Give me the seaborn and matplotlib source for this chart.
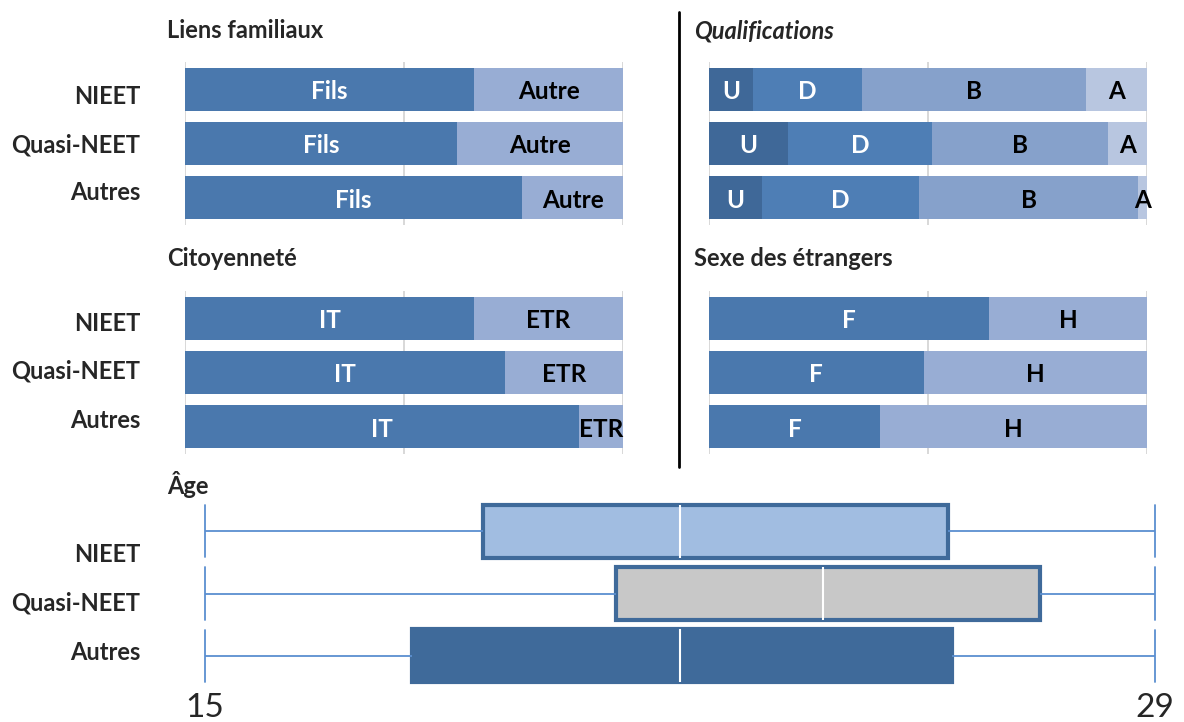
import matplotlib
matplotlib.use("Agg")
import matplotlib.pyplot as plt
from matplotlib.lines import Line2D
import numpy as np
import pandas as pd
import seaborn as sns

# groups shown on every panel
groups = ["NIEET", "Quasi-NEET", "Autres"]

# Liens familiaux (%)
fils = [66, 62, 77]
autre = [34, 38, 23]

# Citoyenneté (%)
ital = [66, 73, 90]
etr = [34, 27, 10]

# Qualifications (%)
qual_u = [10, 18, 12]
qual_d = [25, 33, 36]
qual_b = [51, 40, 50]
qual_a = [14, 9, 2]

# Sexe des étrangers (%)
femmes = [64, 49, 39]
hommes = [36, 51, 61]

# Âge : min, Q1, médiane, Q3, max
age_nieet = [15, 19.1, 22, 25.95, 29]
age_quasi = [15, 21.05, 24.1, 27.3, 29]
age_autres = [15, 18.05, 22, 26, 29]
age_ticks = [15, 29]

DARK = "#4A78AD"
LIGHT = "#98ADD4"
Q_COLORS = ["#3F6898", "#4E7EB5", "#86A1CB", "#B8C6E0"]
Q_TEXT = ["white", "white", "black", "black"]
BOX_EDGE = "#3F6A9A"
WHISK = "#5B8FD0"

sns.set_theme(style="white")
plt.rcParams["font.family"] = ["Lato", "DejaVu Sans"]

W, H = 1184, 722
fig = plt.figure(figsize=(W / 100, H / 100), dpi=100)


def px_axes(x0, y0, x1, y1):
    return fig.add_axes([x0 / W, 1 - y1 / H, (x1 - x0) / W, (y1 - y0) / H])


def panel_title(text, x, y, italic=False):
    fig.text(x / W, 1 - y / H, text, fontsize=17, fontweight="bold",
             style="italic" if italic else "normal", ha="left", va="center")


def row_labels(first_y, step=48.5):
    # group names sit a little closer together than the bars
    for j, g in enumerate(groups):
        fig.text(140 / W, 1 - (first_y + j * step) / H, g, fontsize=17,
                 fontweight="bold", ha="right", va="center")


def stacked(ax, parts, colors, names, text_colors):
    # draw cumulative bars from longest to shortest so they stack
    cum = np.cumsum(np.array(parts), axis=0)
    for i in range(len(parts) - 1, -1, -1):
        sns.barplot(x=cum[i], y=groups, orient="h", color=colors[i],
                    saturation=1, width=0.79, linewidth=0, ax=ax)
    for i in range(len(parts)):
        start = cum[i] - np.array(parts[i])
        for j in range(len(groups)):
            ax.text(start[j] + parts[i][j] / 2, j + 0.04, names[i],
                    ha="center", va="center", fontsize=17.5,
                    fontweight="bold", color=text_colors[i])
    ax.set_xlim(0, 100)
    ax.set_ylim(2.5, -0.5)
    ax.set_xticks([0, 50, 100])
    ax.grid(axis="x", color="#D6D6D6", lw=1.3)
    ax.grid(axis="y", visible=False)
    ax.set_axisbelow(True)
    ax.tick_params(axis="x", length=0, labelbottom=False)
    ax.tick_params(axis="y", length=0, labelleft=False)
    ax.set_xlabel("")
    ax.set_ylabel("")
    sns.despine(ax=ax, left=True, bottom=True)


ax1 = px_axes(185, 62, 623, 225)
stacked(ax1, [fils, autre], [DARK, LIGHT], ["Fils", "Autre"],
        ["white", "black"])
panel_title("Liens familiaux", 167, 31)
row_labels(96)

ax2 = px_axes(709, 62, 1147, 225)
stacked(ax2, [qual_u, qual_d, qual_b, qual_a], Q_COLORS, ["U", "D", "B", "A"],
        Q_TEXT)
panel_title("Qualifications", 694, 31, italic=True)

ax3 = px_axes(185, 291, 623, 454)
stacked(ax3, [ital, etr], [DARK, LIGHT], ["IT", "ETR"], ["white", "black"])
panel_title("Citoyenneté", 167, 259)
row_labels(323)

ax4 = px_axes(709, 291, 1147, 454)
stacked(ax4, [femmes, hommes], [DARK, LIGHT], ["F", "H"], ["white", "black"])
panel_title("Sexe des étrangers", 694, 259)

# separator between left and right panels
fig.add_artist(Line2D([679 / W, 679 / W], [1 - 12 / H, 1 - 467 / H],
                      color="black", lw=2))

# age boxplots
ages = pd.DataFrame({
    "groupe": np.repeat(groups, 5),
    "age": age_nieet + age_quasi + age_autres,
})
ax5 = px_axes(198, 500, 1162, 687)
sns.boxplot(data=ages, x="age", y="groupe", hue="groupe", orient="h",
            palette={"NIEET": "#A1BDE1", "Quasi-NEET": "#C8C8C8",
                     "Autres": BOX_EDGE},
            saturation=1, width=0.85, whis=np.inf, linecolor=BOX_EDGE,
            legend=False, ax=ax5,
            boxprops={"linewidth": 3},
            medianprops={"color": "white", "linewidth": 1.5},
            whiskerprops={"color": WHISK, "linewidth": 1.3},
            capprops={"color": WHISK, "linewidth": 1.3})
# make the caps span the whole box height
for line in ax5.lines:
    xd = np.asarray(line.get_xdata(), dtype=float)
    yd = np.asarray(line.get_ydata(), dtype=float)
    if len(xd) == 2 and xd[0] == xd[1] and xd[0] in (15, 29):
        mid = yd.mean()
        line.set_ydata([mid - 0.42, mid + 0.42])
        line.set_color(WHISK)
ax5.set_xlim(14.9, 29.1)
ax5.set_ylim(2.5, -0.5)
ax5.set_xticks(age_ticks)
ax5.set_xticklabels([str(t) for t in age_ticks])
ax5.tick_params(axis="x", length=0, labelsize=24, pad=4)
ax5.tick_params(axis="y", length=0, labelleft=False)
ax5.set_xlabel("")
ax5.set_ylabel("")
sns.despine(ax=ax5, left=True, bottom=True)
panel_title("Âge", 167, 485)
row_labels(555)

fig.savefig("out.png", dpi=100)
